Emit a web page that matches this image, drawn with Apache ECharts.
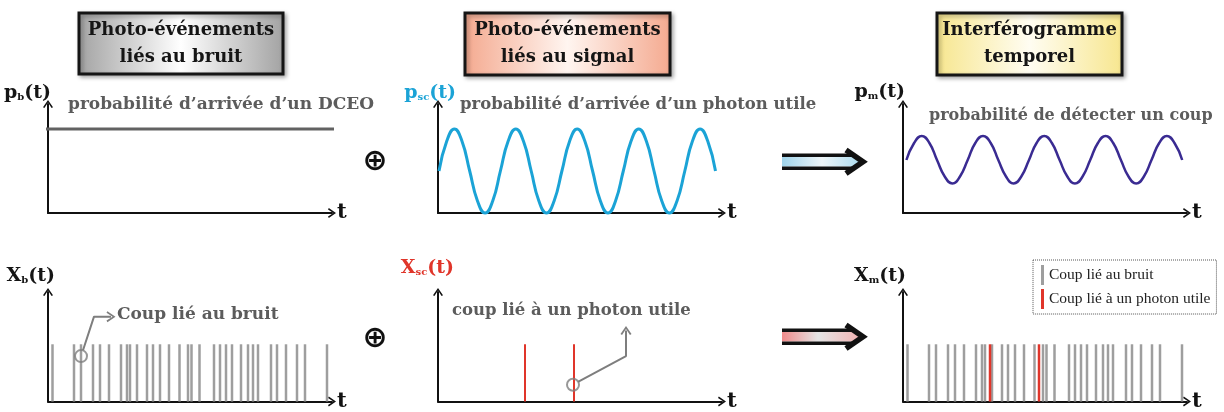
<!DOCTYPE html>
<html><head><meta charset="utf-8">
<script src="https://cdn.jsdelivr.net/npm/echarts@6/dist/echarts.min.js"></script>
<style>html,body{margin:0;padding:0;background:#fff}#c{width:1224px;height:412px}</style>
</head><body><div id="c"></div>
<script>
// ---- data (t in arbitrary time units along each axis) ----
const noiseTimes = [4.5,26,33,45,52,61,73,79,82,89,99,105,112,121,131.5,140,143.5,151.5,166,172,178,184,193,200,205,210,223,229,238,249,257,279];
const signalTimes = [87,136];
const countHeight = 58;
const noiseProbability = [[-15,84],[288,84]];
const signalProbability = [
  [1,42],[8.7,71.7],[16.4,84],[24,71.7],[31.7,42],[39.4,12.3],[47.1,0],[54.8,12.3],
  [62.4,42],[70.1,71.7],[77.8,84],[85.5,71.7],[93.2,42],[100.8,12.3],[108.5,0],[116.2,12.3],
  [123.9,42],[131.6,71.7],[139.2,84],[146.9,71.7],[154.6,42],[162.3,12.3],[170,0],[177.6,12.3],
  [185.3,42],[193,71.7],[200.7,84],[208.4,71.7],[216,42],[223.7,12.3],[231.4,0],[239.1,12.3],
  [246.8,42],[254.4,71.7],[262.1,84],[269.8,71.7],[277.5,42]];
const detectProbability = [
  [3.4,53],[11.1,70],[18.7,77],[26.4,70],[34,53],[41.7,36.5],[49.4,29.5],[57,36.5],
  [64.7,53],[72.3,70],[80,77],[87.7,70],[95.3,53],[103,36.5],[110.6,29.5],[118.3,36.5],
  [126,53],[133.6,70],[141.3,77],[148.9,70],[156.6,53],[164.3,36.5],[171.9,29.5],[179.6,36.5],
  [187.2,53],[194.9,70],[202.6,77],[210.2,70],[217.9,53],[225.5,36.5],[233.2,29.5],[240.9,36.5],
  [248.5,53],[256.2,70],[263.8,77],[271.5,70],[279.2,53]];
const noiseCallout = [[35,52],[46,86],[63,86]];
const noiseCalloutCircle = [33,46];
const signalCallout = [[140,20],[188,46],[188,72]];
const signalCalloutCircle = [135,17];
const legendNames = ['Coup lié au bruit','Coup lié à un photon utile'];

// ---- styling ----
const SERIF = '"DejaVu Serif", serif';
const arrowPath = 'path://M0,7.2 L5,0 L10,7.2 L8.6,8 L5,2.6 L1.4,8 Z';
const GRAY = '#9e9e9e', RED = '#e0352a', CYAN = '#1ba3d6', NAVY = '#3a2b92';
const AXIS_W = 284;
const grids = [
  {left:48, top:104, width:AXIS_W, height:109},
  {left:438, top:104, width:AXIS_W, height:109},
  {left:903, top:104, width:AXIS_W, height:109},
  {left:48, top:292, width:AXIS_W, height:111},
  {left:438, top:292, width:AXIS_W, height:111},
  {left:903, top:292, width:AXIS_W, height:111}
];
const axisLine = {show:true, onZero:false, lineStyle:{color:'#111', width:2}, symbol:['none', arrowPath], symbolSize:[10,8]};
const xAxes = grids.map((g,i)=>({type:'value', gridIndex:i, min:0, max:AXIS_W, axisLine, axisTick:{show:false}, axisLabel:{show:false}, splitLine:{show:false},
  name:'t', nameLocation:'end', nameGap:5, nameTextStyle:{fontFamily:SERIF, fontWeight:'bold', fontSize:21, color:'#111'}}));
const yAxes = grids.map((g,i)=>({type:'value', gridIndex:i, min:0, max:g.height, axisLine, axisTick:{show:false}, axisLabel:{show:false}, splitLine:{show:false}}));

const spikes = arr => arr.map(t=>[t,countHeight]);
const chevronItems = (pts, rot) => pts.map((p,i)=> i<pts.length-1 ? {value:p, symbol:'none'} : {value:p, symbolRotate:rot});

const series = [
  {type:'line', name:'p_b', xAxisIndex:0, yAxisIndex:0, data:noiseProbability, clip:false, symbol:'none', lineStyle:{color:'#626262', width:3}},
  {type:'line', name:'p_sc', xAxisIndex:1, yAxisIndex:1, data:signalProbability, smooth:0.5, clip:false, symbol:'none', lineStyle:{color:CYAN, width:3}},
  {type:'line', name:'p_m', xAxisIndex:2, yAxisIndex:2, data:detectProbability, smooth:0.5, clip:false, symbol:'none', lineStyle:{color:NAVY, width:2.5}},
  {type:'bar', name:legendNames[0], xAxisIndex:3, yAxisIndex:3, data:spikes(noiseTimes), barWidth:2.5, itemStyle:{color:GRAY}},
  {type:'line', name:'callout1', xAxisIndex:3, yAxisIndex:3, z:5, data:chevronItems(noiseCallout,-90), symbol:arrowPath, symbolSize:[11,9], lineStyle:{color:'#7e7e7e', width:2}, itemStyle:{color:'#7e7e7e'}},
  {type:'scatter', name:'circle1', xAxisIndex:3, yAxisIndex:3, z:5, data:[noiseCalloutCircle], symbol:'circle', symbolSize:12, itemStyle:{color:'rgba(255,255,255,0)', borderColor:'#7e7e7e', borderWidth:2}},
  {type:'bar', name:legendNames[1], xAxisIndex:4, yAxisIndex:4, data:spikes(signalTimes), barWidth:2, itemStyle:{color:RED}},
  {type:'line', name:'callout2', xAxisIndex:4, yAxisIndex:4, z:5, data:chevronItems(signalCallout,0), symbol:arrowPath, symbolSize:[11,9], lineStyle:{color:'#7e7e7e', width:2}, itemStyle:{color:'#7e7e7e'}},
  {type:'scatter', name:'circle2', xAxisIndex:4, yAxisIndex:4, z:5, data:[signalCalloutCircle], symbol:'circle', symbolSize:12, itemStyle:{color:'rgba(255,255,255,0)', borderColor:'#7e7e7e', borderWidth:2}},
  {type:'bar', name:legendNames[0], xAxisIndex:5, yAxisIndex:5, data:spikes(noiseTimes), barWidth:2.5, barGap:'-100%', itemStyle:{color:GRAY}},
  {type:'bar', name:legendNames[1], xAxisIndex:5, yAxisIndex:5, data:spikes(signalTimes), barWidth:2.5, barGap:'-100%', z:3, itemStyle:{color:RED}}
];

function titleBox(x,y,w,h,text,c0,c1){
  return [{type:'rect', shape:{x,y,width:w,height:h}, z:10,
    style:{fill:{type:'linear',x:0,y:0,x2:1,y2:0,colorStops:[{offset:0,color:c1},{offset:0.5,color:c0},{offset:1,color:c1}]}, stroke:'#151515', lineWidth:3,
      shadowBlur:4, shadowOffsetX:2, shadowOffsetY:2, shadowColor:'rgba(0,0,0,0.3)'}},
    {type:'text', x:x+w/2, y:y+h/2, z:11, style:{text, font:'bold 18px '+SERIF, fill:'#151515', align:'center', verticalAlign:'middle', textAlign:'center', textVerticalAlign:'middle', lineHeight:27}}];
}
function label(x,y,main,sub,color){
  return {type:'text', x, y, z:11, style:{text:'{m|'+main+'}{s|'+sub+'}{m|(t)}', align:'right', verticalAlign:'middle', textAlign:'right', textVerticalAlign:'middle',
    rich:{m:{fontFamily:SERIF, fontWeight:'bold', fontSize:19, fill:color, color}, s:{fontFamily:SERIF, fontWeight:'bold', fontSize:10, fill:color, color, verticalAlign:'bottom'}}}};
}
function note(x,y,text,size){
  return {type:'text', x, y, z:11, style:{text, font:'bold '+size+'px '+SERIF, fill:'#5c5c5c', align:'left', verticalAlign:'middle', textAlign:'left', textVerticalAlign:'middle'}};
}
function bigArrow(cy, stops){
  return [
    {type:'polygon', z:10, shape:{points:[[782,cy-4.7],[853,cy-4.7],[862,cy],[853,cy+4.7],[782,cy+4.7]]}, style:{fill:{type:'linear',x:0,y:0,x2:1,y2:0,colorStops:stops}}},
    {type:'polyline', z:11, shape:{points:[[782,cy-6.5],[852,cy-6.5]]}, style:{stroke:'#111', lineWidth:3.6, fill:null}},
    {type:'polyline', z:11, shape:{points:[[782,cy+6.5],[852,cy+6.5]]}, style:{stroke:'#111', lineWidth:3.6, fill:null}},
    {type:'polyline', z:11, shape:{points:[[846,cy-11.7],[863,cy],[846,cy+11.7]]}, style:{stroke:'#111', lineWidth:5.5, fill:null, lineJoin:'miter'}}
  ];
}
const graphic = [].concat(
  titleBox(79,13,204,61,'Photo-événements\nliés au bruit','#ffffff','#a2a2a2'),
  titleBox(465,13,205,62,'Photo-événements\nliés au signal','#fff5f0','#f4a98f'),
  titleBox(937,13,185,62,'Interférogramme\ntemporel','#fffdf2','#f7e68e'),
  [label(51,93,'p','b','#151515'), label(456,93,'p','sc',CYAN), label(905,92,'p','m','#151515'),
   label(55,276,'X','b','#151515'), label(454,268,'X','sc',RED), label(906,276,'X','m','#151515'),
   note(68,105,'probabilité d’arrivée d’un DCEO',17), note(460,105,'probabilité d’arrivée d’un photon utile',16.5),
   note(929,116,'probabilité de détecter un coup',16), note(117,315,'Coup lié au bruit',17), note(452,311,'coup lié à un photon utile',16.5),
   {type:'text', x:375, y:162, z:11, style:{text:'⊕', font:'bold 30px "DejaVu Sans"', fill:'#111', align:'center', verticalAlign:'middle', textAlign:'center', textVerticalAlign:'middle'}},
   {type:'text', x:375, y:339, z:11, style:{text:'⊕', font:'bold 30px "DejaVu Sans"', fill:'#111', align:'center', verticalAlign:'middle', textAlign:'center', textVerticalAlign:'middle'}}],
  bigArrow(161.7, [{offset:0,color:'#9fd3ea'},{offset:0.5,color:'#eef5f8'},{offset:1,color:'#a9daee'}]),
  bigArrow(336.7, [{offset:0,color:'#f08a8a'},{offset:0.45,color:'#e4e4e4'},{offset:1,color:'#f2b0b0'}])
);

const chart = echarts.init(document.getElementById('c'), null, {renderer:'canvas'});
chart.setOption({
  animation:false,
  backgroundColor:'#ffffff',
  grid:grids, xAxis:xAxes, yAxis:yAxes, series, graphic,
  legend:{data:legendNames, left:1033, top:260, orient:'vertical', icon:'rect', itemWidth:3, itemHeight:20, itemGap:4,
    padding:[5,6,5,8], borderColor:'#555', borderWidth:1, borderType:'dotted', selectedMode:false,
    textStyle:{fontFamily:'"Liberation Serif", serif', fontSize:15.5, color:'#222'}}
});
</script></body></html>
